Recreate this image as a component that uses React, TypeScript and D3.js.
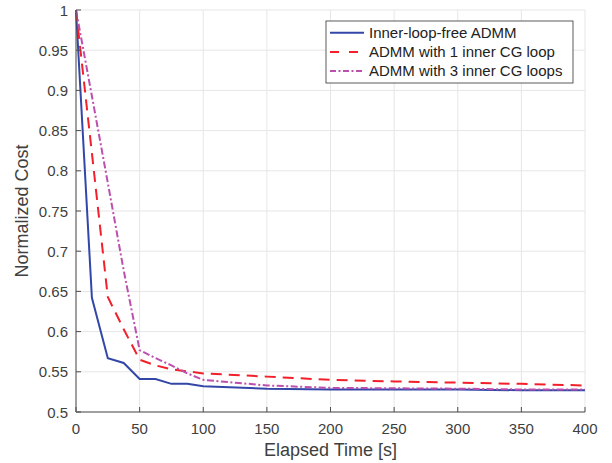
import React from 'react';
import * as d3 from 'd3';

// Data
const timeFree = [0, 12.5, 25, 37.5, 50, 62.5, 75, 87.5, 100, 150, 200, 250, 300, 350, 400];
const costFree = [1, 0.642, 0.567, 0.561, 0.541, 0.541, 0.535, 0.535, 0.532, 0.529, 0.528, 0.528, 0.528, 0.527, 0.527];

const timeCg1 = [0, 12.5, 25, 37.5, 50, 62.5, 75, 100, 150, 200, 250, 300, 350, 400];
const costCg1 = [1, 0.822, 0.643, 0.603, 0.565, 0.558, 0.553, 0.548, 0.544, 0.540, 0.538, 0.5365, 0.535, 0.533];

const timeCg3 = [0, 12.5, 25, 37.5, 50, 62.5, 75, 87.5, 100, 150, 200, 250, 300, 350, 400];
const costCg3 = [1, 0.893, 0.785, 0.676, 0.577, 0.567, 0.558, 0.548, 0.540, 0.533, 0.530, 0.5295, 0.529, 0.528, 0.528];

const xTicks = [0, 50, 100, 150, 200, 250, 300, 350, 400];
const yTicks = [0.5, 0.55, 0.6, 0.65, 0.7, 0.75, 0.8, 0.85, 0.9, 0.95, 1];

const seriesNames = ['Inner-loop-free ADMM', 'ADMM with 1 inner CG loop', 'ADMM with 3 inner CG loops'];

const W = 612;
const H = 463;
const margin = { top: 10, right: 27, bottom: 51, left: 76 };

const series = [
    { name: seriesNames[0], xs: timeFree, ys: costFree, color: '#3347a8', dash: 'none', legDash: 'none' },
    { name: seriesNames[1], xs: timeCg1, ys: costCg1, color: '#f2202a', dash: '11,7', legDash: '9,10' },
    { name: seriesNames[2], xs: timeCg3, ys: costCg3, color: '#bd4fae', dash: '7,2.5,2,2.5', legDash: '6,2.5,2,2.5' },
];

export default function App() {
    const x = d3.scaleLinear().domain([0, 400]).range([margin.left, W - margin.right]);
    const y = d3.scaleLinear().domain([0.5, 1]).range([H - margin.bottom, margin.top]);
    const line = d3.line<[number, number]>().x(d => x(d[0])).y(d => y(d[1]));

    const font = 'Liberation Sans, Arial, Helvetica, sans-serif';
    const axisCol = '#4d4d4d';
    const textCol = '#404040';
    const x0 = x(0), x1 = x(400), y0 = y(0.5), y1 = y(1);

    const lg = { x: 326, y: 21, w: 247, h: 62 };

    return (
        <svg width={W} height={H} style={{ position: 'absolute', left: 0, top: 0, background: '#fff' }}
            fontFamily={font}>
            {/* grid */}
            {xTicks.map(t => (
                <line key={'gx' + t} x1={x(t)} x2={x(t)} y1={y0} y2={y1} stroke="#e6e6e6" strokeWidth={1} />
            ))}
            {yTicks.map(t => (
                <line key={'gy' + t} x1={x0} x2={x1} y1={y(t)} y2={y(t)} stroke="#e6e6e6" strokeWidth={1} />
            ))}

            {/* series */}
            {series.map(s => (
                <path key={s.name} d={line(s.xs.map((v, i) => [v, s.ys[i]] as [number, number])) || ''}
                    fill="none" stroke={s.color} strokeWidth={2} strokeDasharray={s.dash} />
            ))}

            {/* axes */}
            <line x1={x0} x2={x1} y1={y0} y2={y0} stroke={axisCol} strokeWidth={1} />
            <line x1={x0} x2={x0} y1={y0} y2={y1} stroke={axisCol} strokeWidth={1} />
            {xTicks.map(t => (
                <g key={'xt' + t}>
                    <line x1={x(t)} x2={x(t)} y1={y0} y2={y0 - 5} stroke={axisCol} />
                    <text x={x(t)} y={y0 + 22} textAnchor="middle" fontSize={15} fill={textCol}>{t}</text>
                </g>
            ))}
            {yTicks.map(t => (
                <g key={'yt' + t}>
                    <line x1={x0} x2={x0 + 5} y1={y(t)} y2={y(t)} stroke={axisCol} />
                    <text x={x0 - 8} y={y(t) + 5.5} textAnchor="end" fontSize={15} fill={textCol}>{d3.format('')(t)}</text>
                </g>
            ))}

            <text x={(x0 + x1) / 2} y={456} textAnchor="middle" fontSize={18} fill={textCol}>Elapsed Time [s]</text>
            <text transform={`translate(28,${(y0 + y1) / 2}) rotate(-90)`} textAnchor="middle" fontSize={18} fill={textCol}>
                Normalized Cost
            </text>

            {/* legend */}
            <rect x={lg.x} y={lg.y} width={lg.w} height={lg.h} fill="#fff" stroke="#333" strokeWidth={0.8} />
            {series.map((s, i) => {
                const cy = lg.y + 11.7 + i * 19.2;
                return (
                    <g key={'lg' + i}>
                        <line x1={lg.x + 4} x2={lg.x + 38} y1={cy} y2={cy} stroke={s.color} strokeWidth={2}
                            strokeDasharray={s.legDash} />
                        <text x={lg.x + 43} y={cy + 5.3} fontSize={15} fill="#222">{s.name}</text>
                    </g>
                );
            })}
        </svg>
    );
}
